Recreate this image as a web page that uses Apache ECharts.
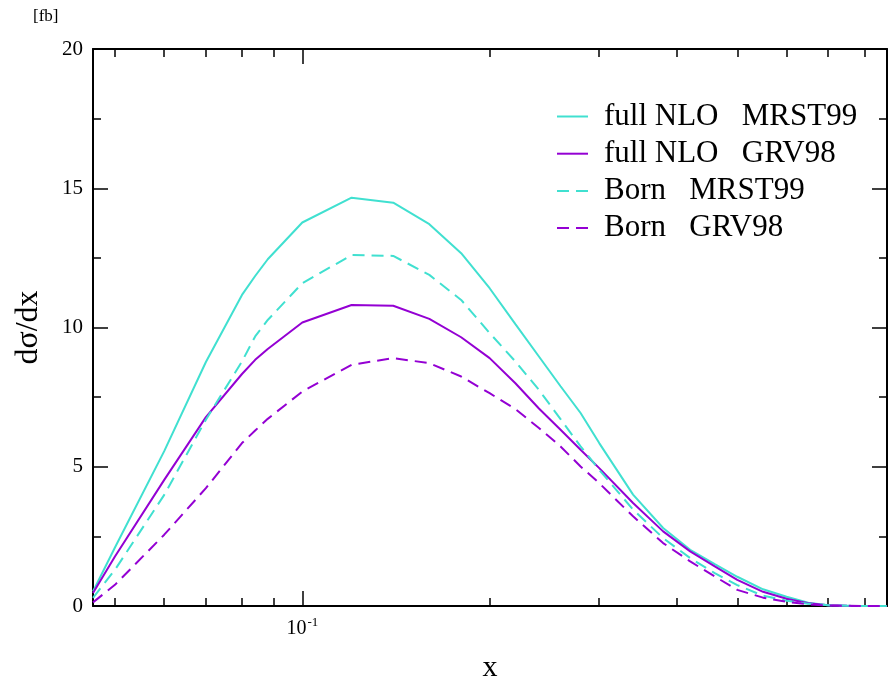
<!DOCTYPE html>
<html>
<head>
<meta charset="utf-8">
<script src="https://cdn.jsdelivr.net/npm/echarts@6/dist/echarts.min.js"></script>
<style>
  html, body { margin: 0; padding: 0; background: #fff; }
  #chart { width: 895px; height: 683px; }
</style>
</head>
<body>
<div id="chart"></div>
<script>
  // x values (log axis) and the four curves, dsigma/dx in fb
  var xs = [0.0461, 0.05, 0.06, 0.07, 0.08, 0.084, 0.088, 0.1, 0.12, 0.14, 0.16, 0.18, 0.2, 0.22, 0.24,
    0.26, 0.28, 0.3, 0.34, 0.38, 0.42, 0.46, 0.5, 0.55, 0.6, 0.65, 0.7, 0.75, 0.8, 0.87]
  var nloMrst = [0.52, 2.10, 5.56, 8.76, 11.17, 11.85, 12.45, 13.77, 14.66, 14.48, 13.71, 12.67, 11.41, 10.12, 8.96,
    7.89, 6.93, 5.85, 4.0, 2.80, 2.02, 1.5, 1.05, 0.60, 0.33, 0.12, 0.03, 0.01, 0, 0]
  var nloGrv = [0.47, 1.78, 4.53, 6.78, 8.33, 8.84, 9.23, 10.18, 10.81, 10.78, 10.31, 9.65, 8.90, 8.0, 7.09,
    6.33, 5.61, 4.95, 3.70, 2.68, 1.96, 1.42, 0.94, 0.51, 0.26, 0.10, 0.03, 0.01, 0, 0]
  var bornMrst = [0.29, 1.30, 3.99, 6.69, 8.78, 9.68, 10.27, 11.59, 12.60, 12.57, 11.89, 10.99, 9.80, 8.78, 7.76,
    6.71, 5.73, 4.89, 3.46, 2.44, 1.72, 1.18, 0.75, 0.37, 0.19, 0.08, 0.03, 0.01, 0, 0]
  var bornGrv = [0.13, 0.76, 2.56, 4.23, 5.85, 6.30, 6.72, 7.70, 8.66, 8.90, 8.72, 8.24, 7.64, 7.07, 6.39,
    5.73, 5.01, 4.41, 3.22, 2.26, 1.60, 1.06, 0.58, 0.30, 0.15, 0.06, 0.02, 0.01, 0, 0]

  var names = ['full NLO   MRST99', 'full NLO   GRV98', 'Born   MRST99', 'Born   GRV98']
  var majorTicks = [0.1]
  var minorTicks = [0.05, 0.06, 0.07, 0.08, 0.09, 0.2, 0.3, 0.4, 0.5, 0.6, 0.7, 0.8]
  var xMin = 0.0461
  var xMax = 0.87

  var serif = 'Liberation Serif'
  var cyan = '#40E0D0'
  var violet = '#9400D3'

  function pairs (ys) {
    return xs.map(function (x, i) { return [x, ys[i]] })
  }

  function xAxisDef (pos, ticks, len, withLine, withLabel) {
    return {
      type: 'log',
      logBase: 10,
      position: pos,
      min: xMin,
      max: xMax,
      name: withLabel ? 'x' : '',
      nameLocation: 'middle',
      nameGap: 47,
      nameTextStyle: { fontFamily: serif, fontSize: 30, color: '#000' },
      axisLine: { show: withLine, onZero: false, lineStyle: { color: '#000', width: 2 } },
      axisTick: { show: true, inside: true, length: len, customValues: ticks, lineStyle: { color: '#000', width: 1.5 } },
      axisLabel: withLabel ? {
        show: true,
        customValues: majorTicks,
        margin: 10,
        formatter: function (v) { return '{a|10}{b|-1}' },
        rich: {
          a: { fontFamily: serif, fontSize: 20, color: '#000' },
          b: { fontFamily: serif, fontSize: 13, color: '#000', padding: [0, 0, 12, 1] }
        }
      } : { show: false },
      splitLine: { show: false },
      minorTick: { show: false }
    }
  }

  function yAxisDef (pos, withLabel) {
    return {
      type: 'value',
      position: pos,
      min: 0,
      max: 20,
      interval: 5,
      name: withLabel ? 'dσ/dx' : '',
      nameLocation: 'middle',
      nameGap: 48,
      nameTextStyle: { fontFamily: serif, fontSize: 32, color: '#000' },
      axisLine: { show: true, onZero: false, lineStyle: { color: '#000', width: 2 } },
      axisTick: { show: true, inside: true, length: 15, lineStyle: { color: '#000', width: 1.5 } },
      minorTick: { show: true, splitNumber: 2, length: 8, lineStyle: { color: '#000', width: 1.5 } },
      axisLabel: { show: withLabel, margin: 10, fontFamily: serif, fontSize: 21, color: '#000' },
      splitLine: { show: false }
    }
  }

  function lineSeries (name, ys, color, dashed) {
    return {
      name: name,
      type: 'line',
      xAxisIndex: 0,
      yAxisIndex: 0,
      data: pairs(ys),
      symbol: 'none',
      showSymbol: false,
      smooth: false,
      color: color,
      lineStyle: { color: color, width: 2, type: dashed ? [12, 7] : 'solid' }
    }
  }

  var myChart = echarts.init(document.getElementById('chart'))
  myChart.setOption({
    animation: false,
    backgroundColor: '#fff',
    grid: { left: 93, right: 8, top: 49, bottom: 77, containLabel: false, outerBoundsMode: 'none' },
    graphic: [
      { type: 'text', left: 33, top: 8, style: { text: '[fb]', font: '17px "Liberation Serif"', fill: '#000' } }
    ],
    legend: {
      data: names,
      orient: 'vertical',
      left: 551,
      top: 96,
      itemWidth: 31,
      itemHeight: 14,
      itemGap: 6.2,
      itemStyle: { opacity: 0 },
      textStyle: { fontFamily: serif, fontSize: 31, lineHeight: 31, color: '#000', padding: [0, 0, 0, 11] }
    },
    xAxis: [
      xAxisDef('bottom', majorTicks, 15, true, true),
      xAxisDef('bottom', minorTicks, 8, false, false),
      xAxisDef('top', majorTicks, 15, true, false),
      xAxisDef('top', minorTicks, 8, false, false)
    ],
    yAxis: [
      yAxisDef('left', true),
      yAxisDef('right', false)
    ],
    series: [
      lineSeries(names[0], nloMrst, cyan, false),
      lineSeries(names[1], nloGrv, violet, false),
      lineSeries(names[2], bornMrst, cyan, true),
      lineSeries(names[3], bornGrv, violet, true)
    ]
  })
</script>
</body>
</html>
